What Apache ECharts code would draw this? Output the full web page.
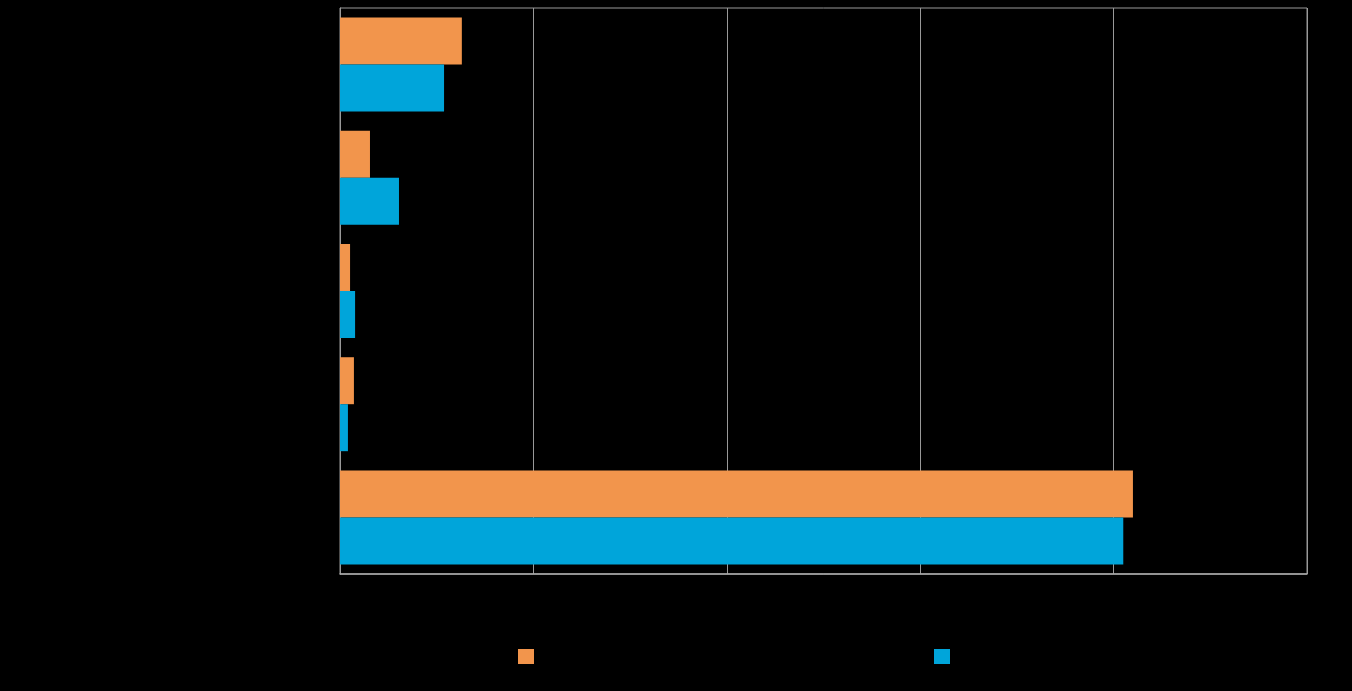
<!DOCTYPE html>
<html><head><meta charset="utf-8">
<script src="https://cdn.jsdelivr.net/npm/echarts@6/dist/echarts.min.js"></script>
<style>html,body{margin:0;padding:0;background:#000;}#c{width:1352px;height:691px;}</style>
</head><body><div id="c"></div>
<script>
var categories = ['A', 'B', 'C', 'D', 'E'];
var seriesNames = ['Series 1', 'Series 2'];
var orangeValues = [6.3, 1.55, 0.52, 0.72, 41.0];
var blueValues = [5.38, 3.05, 0.78, 0.41, 40.5];
var chart = echarts.init(document.getElementById('c'));
chart.setOption({
  backgroundColor: '#000',
  animation: false,
  grid: {left: 340, top: 8, width: 967, height: 566, show: true, borderColor: '#999', borderWidth: 1, containLabel: false},
  xAxis: {type: 'value', min: 0, max: 50, interval: 10, z: 0,
    axisLine: {show: true, lineStyle: {color: '#aaa', width: 1.5}},
    axisTick: {show: false}, axisLabel: {show: false},
    splitLine: {show: true, lineStyle: {color: '#999', width: 1}}},
  yAxis: {type: 'category', data: categories, inverse: true, z: 0,
    axisLine: {show: true, lineStyle: {color: '#999'}}, axisTick: {show: false}, axisLabel: {show: false}},
  legend: [
    {left: 513, top: 644, itemWidth: 16, itemHeight: 15, icon: 'rect', data: [seriesNames[0]], formatter: function(){return '';}, textStyle: {color: '#000'}},
    {left: 929, top: 644, itemWidth: 16, itemHeight: 15, icon: 'rect', data: [seriesNames[1]], formatter: function(){return '';}, textStyle: {color: '#000'}}
  ],
  series: [
    {name: seriesNames[0], type: 'bar', z: 5, data: orangeValues, itemStyle: {color: '#F2954C'}, barGap: '0%', barCategoryGap: '17%'},
    {name: seriesNames[1], type: 'bar', z: 5, data: blueValues, itemStyle: {color: '#00A5DA'}, barGap: '0%', barCategoryGap: '17%'}
  ]
});
</script></body></html>
